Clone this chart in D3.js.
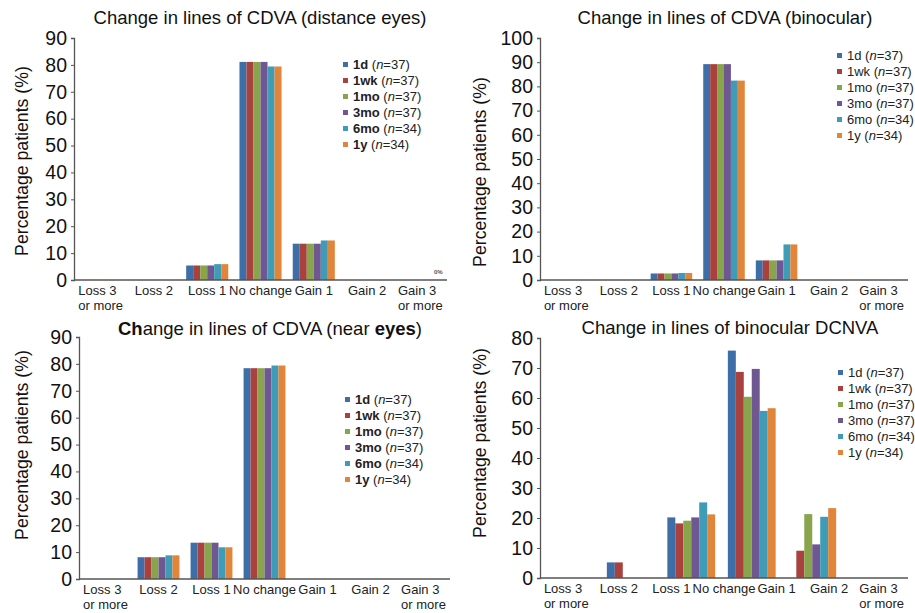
<!DOCTYPE html>
<html>
<head>
<meta charset="utf-8">
<script src="https://cdn.jsdelivr.net/npm/d3@7"></script>
<style>
  body { margin: 0; background: #fff; }
  svg { font-family: "Liberation Sans", Arial, sans-serif; }
</style>
</head>
<body>
<div id="viz-container"></div>
<script>
// categories
let cats = ['Loss 3\nor more', 'Loss 2', 'Loss 1', 'No change', 'Gain 1', 'Gain 2', 'Gain 3\nor more'];
// DCNVA bars only use 6 slots in the original figure
let dcnvaSlots = ['Loss 3', 'Loss 2', 'Loss 1', 'No change', 'Gain 1', 'Gain 2'];

let periods = ['1d', '1wk', '1mo', '3mo', '6mo', '1y'];
let nPat = [37, 37, 37, 37, 34, 34];

//period color
let pc = ['#3e6ea7', '#a9423f', '#88a54c', '#6f5791', '#3e9cb6', '#e0853a'];

// % patients, one row per period
let distanceEyes = [
  [0, 0, 5.4, 81.1, 13.5, 0, 0],
  [0, 0, 5.4, 81.1, 13.5, 0, 0],
  [0, 0, 5.4, 81.1, 13.5, 0, 0],
  [0, 0, 5.4, 81.1, 13.5, 0, 0],
  [0, 0, 5.9, 79.4, 14.7, 0, 0],
  [0, 0, 5.9, 79.4, 14.7, 0, 0]
];
let binocular = [
  [0, 0, 2.7, 89.2, 8.1, 0, 0],
  [0, 0, 2.7, 89.2, 8.1, 0, 0],
  [0, 0, 2.7, 89.2, 8.1, 0, 0],
  [0, 0, 2.7, 89.2, 8.1, 0, 0],
  [0, 0, 2.9, 82.4, 14.7, 0, 0],
  [0, 0, 2.9, 82.4, 14.7, 0, 0]
];
let nearEyes = [
  [0, 8.1, 13.5, 78.4, 0, 0, 0],
  [0, 8.1, 13.5, 78.4, 0, 0, 0],
  [0, 8.1, 13.5, 78.4, 0, 0, 0],
  [0, 8.1, 13.5, 78.4, 0, 0, 0],
  [0, 8.8, 11.8, 79.4, 0, 0, 0],
  [0, 8.8, 11.8, 79.4, 0, 0, 0]
];
let dcnva = [
  [0, 5.2, 20.2, 75.8, 0, 0],
  [0, 5.2, 18.2, 68.7, 9.1, 0],
  [0, 0, 19.1, 60.4, 21.3, 0],
  [0, 0, 20.2, 69.7, 11.2, 0],
  [0, 0, 25.2, 55.7, 20.4, 0],
  [0, 0, 21.2, 56.6, 23.3, 0]
];

let yTicks90 = d3.range(0, 91, 10);
let yTicks100 = d3.range(0, 101, 10);
let yTicks80 = d3.range(0, 81, 10);

let svg = d3.select('#viz-container')
  .append('svg')
    .attr('width', 915)
    .attr('height', 613);

let panels = [
  {title: [['Change in lines of CDVA (distance eyes)', false]], data: distanceEyes, slots: cats,
   left: 74, right: 447, barRight: 447, top: 38, zero: 280, ymax: 90, ticks: yTicks90,
   titleX: 260, titleY: 24,
   ylabX: 28, ylabY: 161, legX: 343, legY: 64, legBold: true, zeroNote: true},
  {title: [['Change in lines of CDVA (binocular)', false]], data: binocular, slots: cats,
   left: 540, right: 908, barRight: 908, top: 38, zero: 280, ymax: 100, ticks: yTicks100,
   titleX: 725, titleY: 24,
   ylabX: 486, ylabY: 172, legX: 837, legY: 55, legBold: false},
  {title: [['Ch', true], ['ange in lines of CDVA (near ', false], ['eyes', true], [')', false]], data: nearEyes, slots: cats,
   left: 79, right: 450, barRight: 450, top: 337, zero: 579, ymax: 90, ticks: yTicks90,
   titleX: 270, titleY: 335,
   ylabX: 28, ylabY: 445, legX: 345, legY: 399, legBold: true},
  {title: [['Change in lines of binocular DCNVA', false]], data: dcnva, slots: dcnvaSlots,
   left: 540, right: 908, barRight: 903, top: 338, zero: 578, ymax: 80, ticks: yTicks80,
   titleX: 730, titleY: 334,
   ylabX: 486, ylabY: 443, legX: 838, legY: 372, legBold: false}
];

panels.forEach(drawPanel);

function drawPanel(p){
  let g = svg.append('g');

  let y = d3.scaleLinear().domain([0, p.ymax]).range([p.zero, p.top]);
  let xLab = d3.scaleBand().domain(cats).range([p.left, p.right]);
  let x0 = d3.scaleBand().domain(p.slots).range([p.left, p.barRight]);
  let gw = x0.bandwidth() * 0.79;
  let x1 = d3.scaleBand().domain(periods).range([0, gw]);

  // bars, one group per period
  periods.forEach(function(per, pi){
    let rows = p.data[pi].map(function(v, i){ return {v: v, slot: p.slots[i]}; })
      .filter(function(d){ return d.v > 0; });
    g.append('g').selectAll('rect')
      .data(rows)
      .enter()
      .append('rect')
        .attr('x', function(d){ return x0(d.slot) + (x0.bandwidth() - gw) / 2 + x1(per); })
        .attr('y', function(d){ return y(d.v); })
        .attr('width', x1.bandwidth())
        .attr('height', function(d){ return p.zero - y(d.v); })
        .attr('fill', pc[pi]);
  });

  // y axis
  let yAxis = d3.axisLeft(y).tickValues(p.ticks).tickSize(3).tickPadding(4);
  let ya = g.append('g').attr('transform', 'translate(' + p.left + ',0)').call(yAxis);
  ya.select('.domain').attr('stroke', '#555').attr('stroke-width', 1.3);
  ya.selectAll('.tick line').attr('stroke', '#555');
  ya.selectAll('.tick text')
    .attr('font-size', 19.5)
    .attr('fill', '#111')
    .attr('font-family', '"Liberation Sans", Arial, sans-serif');

  // x axis line
  g.append('line')
    .attr('x1', p.left).attr('x2', p.right)
    .attr('y1', p.zero).attr('y2', p.zero)
    .attr('stroke', '#555').attr('stroke-width', 1.5);

  // x labels (lines left aligned inside a centred block)
  cats.forEach(function(c){
    let lines = c.split('\n');
    let t = g.append('text')
      .attr('font-size', 13)
      .attr('fill', '#222');
    lines.forEach(function(l, li){
      t.append('tspan')
        .attr('x', 0)
        .attr('y', p.zero + 15 + li * 15)
        .text(l);
    });
    let w = t.node().getBBox().width;
    let cx = xLab(c) + xLab.bandwidth() / 2;
    t.selectAll('tspan').attr('x', cx - w / 2);
  });

  // title
  let tt = g.append('text')
    .attr('x', p.titleX)
    .attr('y', p.titleY)
    .attr('text-anchor', 'middle')
    .attr('font-size', 18.5)
    .attr('fill', '#111');
  p.title.forEach(function(s){
    tt.append('tspan').attr('font-weight', s[1] ? 'bold' : 'normal').text(s[0]);
  });

  // y label
  g.append('text')
    .attr('transform', 'translate(' + p.ylabX + ',' + p.ylabY + ') rotate(-90)')
    .attr('text-anchor', 'middle')
    .attr('font-size', 17.7)
    .attr('fill', '#111')
    .text('Percentage patients (%)');

  // legend
  periods.forEach(function(per, i){
    let ly = p.legY + i * 16;
    g.append('rect')
      .attr('x', p.legX).attr('y', ly - 2)
      .attr('width', 5).attr('height', 5)
      .attr('fill', pc[i]);
    let lt = g.append('text')
      .attr('x', p.legX + 10)
      .attr('y', ly + 5)
      .attr('font-size', 13)
      .attr('fill', '#222');
    lt.append('tspan').attr('font-weight', p.legBold ? 'bold' : 'normal').text(per);
    lt.append('tspan').text(' (');
    lt.append('tspan').attr('font-style', 'italic').text('n');
    lt.append('tspan').text('=' + nPat[i] + ')');
  });

  if(p.zeroNote){
    g.append('text')
      .attr('x', xLab('Gain 3\nor more') + xLab.bandwidth() / 2 + 18)
      .attr('y', p.zero - 6)
      .attr('text-anchor', 'middle')
      .attr('font-size', 6)
      .attr('font-weight', 'bold')
      .attr('fill', '#555')
      .text('0%');
  }
}
</script>
</body>
</html>
